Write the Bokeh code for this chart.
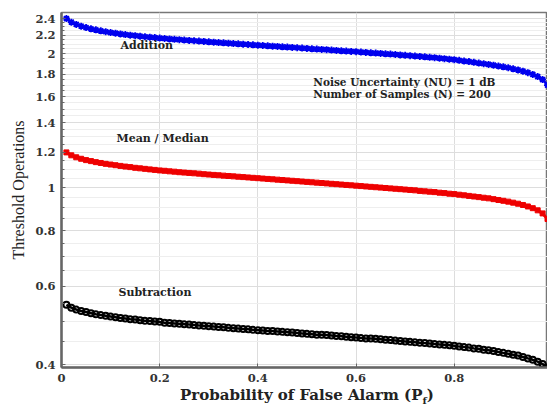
from bokeh.plotting import figure
from bokeh.models import (Range1d, FixedTicker, CustomJSTickFormatter, Label, Div)
from bokeh.layouts import column
from bokeh.embed import file_html
from bokeh.resources import INLINE

# Probability of false alarm
pf = [0.01, 0.02, 0.03, 0.04, 0.05, 0.06, 0.07, 0.08, 0.09, 0.10,
      0.11, 0.12, 0.13, 0.14, 0.15, 0.16, 0.17, 0.18, 0.19, 0.20,
      0.21, 0.22, 0.23, 0.24, 0.25, 0.26, 0.27, 0.28, 0.29, 0.30,
      0.31, 0.32, 0.33, 0.34, 0.35, 0.36, 0.37, 0.38, 0.39, 0.40,
      0.41, 0.42, 0.43, 0.44, 0.45, 0.46, 0.47, 0.48, 0.49, 0.50,
      0.51, 0.52, 0.53, 0.54, 0.55, 0.56, 0.57, 0.58, 0.59, 0.60,
      0.61, 0.62, 0.63, 0.64, 0.65, 0.66, 0.67, 0.68, 0.69, 0.70,
      0.71, 0.72, 0.73, 0.74, 0.75, 0.76, 0.77, 0.78, 0.79, 0.80,
      0.81, 0.82, 0.83, 0.84, 0.85, 0.86, 0.87, 0.88, 0.89, 0.90,
      0.91, 0.92, 0.93, 0.94, 0.95, 0.96, 0.97, 0.98, 0.99]

addition = [2.400, 2.355, 2.328, 2.307, 2.290, 2.276, 2.263, 2.252, 2.241, 2.232,
            2.224, 2.216, 2.209, 2.202, 2.196, 2.190, 2.184, 2.179, 2.174, 2.169,
            2.164, 2.159, 2.155, 2.151, 2.147, 2.143, 2.139, 2.135, 2.131, 2.127,
            2.123, 2.119, 2.116, 2.112, 2.108, 2.105, 2.101, 2.098, 2.094, 2.091,
            2.087, 2.084, 2.080, 2.077, 2.073, 2.070, 2.066, 2.063, 2.059, 2.056,
            2.052, 2.049, 2.045, 2.042, 2.038, 2.035, 2.031, 2.028, 2.024, 2.021,
            2.017, 2.014, 2.010, 2.007, 2.003, 1.999, 1.996, 1.992, 1.988, 1.984,
            1.980, 1.976, 1.972, 1.968, 1.963, 1.959, 1.954, 1.949, 1.944, 1.939,
            1.933, 1.926, 1.920, 1.913, 1.906, 1.899, 1.892, 1.885, 1.877, 1.869,
            1.860, 1.850, 1.839, 1.827, 1.813, 1.797, 1.777, 1.750, 1.700]

mean_median = [1.200, 1.182, 1.170, 1.161, 1.153, 1.147, 1.141, 1.136, 1.131, 1.127,
               1.123, 1.119, 1.115, 1.112, 1.108, 1.105, 1.102, 1.099, 1.096, 1.093,
               1.091, 1.088, 1.086, 1.083, 1.081, 1.079, 1.077, 1.075, 1.072, 1.070,
               1.068, 1.066, 1.064, 1.062, 1.060, 1.058, 1.056, 1.054, 1.052, 1.050,
               1.048, 1.046, 1.044, 1.042, 1.040, 1.038, 1.036, 1.034, 1.032, 1.030,
               1.028, 1.026, 1.024, 1.022, 1.020, 1.018, 1.016, 1.014, 1.012, 1.010,
               1.008, 1.006, 1.004, 1.002, 1.000, 0.998, 0.996, 0.994, 0.992, 0.990,
               0.988, 0.986, 0.983, 0.981, 0.979, 0.977, 0.974, 0.972, 0.969, 0.967,
               0.964, 0.961, 0.958, 0.955, 0.952, 0.949, 0.946, 0.942, 0.938, 0.934,
               0.930, 0.925, 0.920, 0.914, 0.907, 0.899, 0.889, 0.875, 0.850]

subtraction = [0.545, 0.537, 0.532, 0.528, 0.525, 0.522, 0.519, 0.517, 0.515, 0.513,
               0.511, 0.509, 0.508, 0.506, 0.505, 0.503, 0.502, 0.501, 0.500, 0.499,
               0.497, 0.496, 0.495, 0.494, 0.493, 0.492, 0.491, 0.490, 0.489, 0.488,
               0.487, 0.486, 0.485, 0.484, 0.483, 0.482, 0.481, 0.480, 0.479, 0.478,
               0.477, 0.476, 0.476, 0.475, 0.474, 0.473, 0.472, 0.471, 0.470, 0.469,
               0.468, 0.467, 0.467, 0.466, 0.465, 0.464, 0.463, 0.462, 0.461, 0.460,
               0.459, 0.458, 0.458, 0.457, 0.456, 0.455, 0.454, 0.453, 0.452, 0.451,
               0.450, 0.449, 0.448, 0.447, 0.446, 0.445, 0.444, 0.443, 0.442, 0.441,
               0.439, 0.438, 0.437, 0.435, 0.434, 0.432, 0.431, 0.429, 0.427, 0.425,
               0.423, 0.421, 0.419, 0.416, 0.413, 0.410, 0.406, 0.401, 0.394]

x_ticks = [0, 0.2, 0.4, 0.6, 0.8]
y_ticks = [0.4, 0.6, 0.8, 1.0, 1.2, 1.4, 1.6, 1.8, 2.0, 2.2, 2.4]
y_minor = [0.45, 0.5, 0.55, 0.65, 0.7, 0.75, 0.85, 0.9, 0.95, 1.05, 1.1, 1.15,
           1.25, 1.3, 1.35, 1.45, 1.5, 1.55, 1.65, 1.7, 1.75, 1.85, 1.9, 1.95,
           2.05, 2.1, 2.15, 2.25, 2.3, 2.35]

SERIF_B = "DejaVu Serif"

p = figure(width=547, height=388, y_axis_type="log",
           x_range=Range1d(0, 0.99), y_range=Range1d(0.394, 2.476),
           output_backend="svg", toolbar_location=None,
           min_border_left=61, min_border_right=0, min_border_top=12,
           min_border_bottom=21)
p.background_fill_color = "white"
p.border_fill_color = "white"
p.outline_line_color = "#777777"
p.outline_line_width = 1.5

fmt = CustomJSTickFormatter(code="return (Math.round(tick*10)/10).toString();")

p.xaxis.ticker = FixedTicker(ticks=x_ticks)
p.yaxis.ticker = FixedTicker(ticks=y_ticks, minor_ticks=y_minor)
p.xaxis.formatter = fmt
p.yaxis.formatter = fmt

for ax in (p.xaxis[0], p.yaxis[0]):
    ax.axis_line_color = "#666666"
    ax.axis_line_width = 2.5
    ax.major_tick_in = 4
    ax.major_tick_out = 0
    ax.minor_tick_in = 3
    ax.minor_tick_out = 0
    ax.major_tick_line_color = "#666666"
    ax.minor_tick_line_color = "#666666"
    ax.major_label_text_font = SERIF_B
    ax.major_label_text_font_style = "bold"
    ax.major_label_text_font_size = "11.5px"
    ax.major_label_text_color = "#333333"

p.xaxis.major_label_standoff = 6
p.xaxis.axis_label = None
p.yaxis.major_label_standoff = 6
p.yaxis.axis_label = "Threshold Operations"
p.yaxis.axis_label_text_font = "Liberation Serif"
p.yaxis.axis_label_text_font_style = "normal"
p.yaxis.axis_label_text_font_size = "16px"
p.yaxis.axis_label_text_color = "#222222"
p.yaxis.axis_label_standoff = 5

p.xgrid.grid_line_color = "#dddddd"
p.ygrid.grid_line_color = "#dddddd"
p.ygrid.minor_grid_line_color = "#eeeeee"
p.xgrid.grid_line_width = 1
p.ygrid.grid_line_width = 1

# curves
p.line(pf, addition, line_color="#0000ee", line_width=2.5)
p.scatter(pf, addition, marker="asterisk", size=7, line_color="#0000ee", line_width=1.8)

p.line(pf, mean_median, line_color="#ee0000", line_width=3)
p.scatter(pf, mean_median, marker="square", size=5, line_color="#ee0000",
          fill_color="#ee0000", line_width=1)

p.line(pf, subtraction, line_color="black", line_width=2.5)
p.scatter(pf, subtraction, marker="circle", size=6, line_color="black",
          fill_color=None, line_width=2)

def add_label(x, y, text, size="11px"):
    lab = Label(x=x, y=y, text=text, text_font=SERIF_B, text_font_size=size,
                text_font_style="bold", text_color="#222222",
                text_baseline="middle", text_align="left")
    p.add_layout(lab)
    return lab

add_label(0.12, 2.09, "Addition")
add_label(0.112, 1.29, "Mean / Median")
add_label(0.116, 0.58, "Subtraction")
add_label(0.513, 1.73, "Noise Uncertainty (NU) = 1 dB", size="10.5px")
add_label(0.513, 1.62, "Number of Samples (N) = 200", size="10.5px")

# x-axis title with a real subscript
xtitle = Div(
    text='Probability of False Alarm (P<sub style="font-size:10px;vertical-align:-4px;">f</sub>)',
    width=547, height=24, margin=(0, 0, 0, 0),
    styles={"font-family": "DejaVu Serif", "font-weight": "bold",
            "font-size": "15px", "color": "#222222", "line-height": "14px",
            "padding-left": "180px", "white-space": "nowrap"})

layout = column(p, xtitle, spacing=0)

open("out.html", "w").write(file_html(layout, INLINE))
